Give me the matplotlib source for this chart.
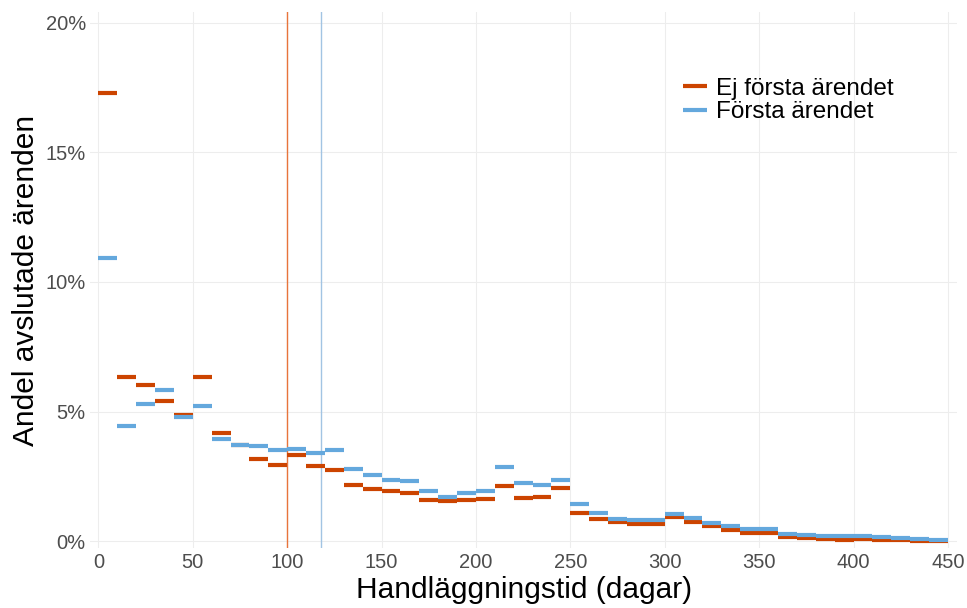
import numpy as np
import matplotlib.pyplot as plt
from matplotlib.ticker import FuncFormatter

plt.rcParams['font.family'] = ['Liberation Sans', 'DejaVu Sans']

# bins of 10 days, 0-450
bin_start = np.arange(0, 450, 10)

ej_forsta = [17.29, 6.34, 6.01, 5.43, 4.89, 6.34, 4.17, 3.72, 3.18, 2.96,
             3.33, 2.90, 2.75, 2.16, 2.03, 1.96, 1.85, 1.60, 1.55, 1.59,
             1.64, 2.15, 1.67, 1.73, 2.06, 1.11, 0.88, 0.73, 0.68, 0.68,
             0.95, 0.73, 0.58, 0.45, 0.33, 0.32, 0.17, 0.14, 0.10, 0.07,
             0.08, 0.04, 0.04, 0.01, 0.0]
forsta = [10.92, 4.46, 5.28, 5.82, 4.78, 5.22, 3.95, 3.72, 3.66, 3.54,
          3.56, 3.41, 3.51, 2.79, 2.57, 2.35, 2.32, 1.96, 1.71, 1.85,
          1.94, 2.86, 2.27, 2.18, 2.35, 1.44, 1.11, 0.88, 0.84, 0.84,
          1.05, 0.89, 0.71, 0.58, 0.48, 0.48, 0.28, 0.24, 0.21, 0.19,
          0.22, 0.18, 0.14, 0.10, 0.05]

median_ej = 100
median_forsta = 118

orange = '#CC4400'
blue = '#64A8DD'

fig, ax = plt.subplots(figsize=(9.67, 6.08), dpi=100)
fig.subplots_adjust(left=0.093, right=0.99, top=0.98, bottom=0.098)

ax.axvline(median_ej, color='#E8743B', lw=1.0, zorder=2)
ax.axvline(median_forsta, color='#A2C4E3', lw=1.0, zorder=2)

ax.hlines(ej_forsta, bin_start, bin_start + 10, color=orange, lw=3,
          label='Ej första ärendet', zorder=3)
ax.hlines(forsta, bin_start, bin_start + 10, color=blue, lw=3,
          label='Första ärendet', zorder=3)

ax.set_xlim(-4.5, 455)
ax.set_ylim(-0.27, 20.4)
ax.set_xticks(np.arange(0, 451, 50))
ax.set_yticks([0, 5, 10, 15, 20])
ax.yaxis.set_major_formatter(FuncFormatter(lambda v, p: '%d%%' % v))

ax.grid(True, color='#EDEDED', lw=0.8)
ax.set_axisbelow(True)
for s in ax.spines.values():
    s.set_visible(False)
ax.tick_params(length=0, labelsize=14.5, colors='#4D4D4D', pad=3)

ax.set_xlabel('Handläggningstid (dagar)', fontsize=21.5, labelpad=3)
ax.set_ylabel('Andel avslutade ärenden', fontsize=21.5, labelpad=4)

leg = ax.legend(loc='upper right', bbox_to_anchor=(0.947, 0.908),
                bbox_transform=fig.transFigure, frameon=False,
                fontsize=17.5, handlelength=0.95, handletextpad=0.4,
                labelspacing=0.05)

plt.savefig('out.png')
